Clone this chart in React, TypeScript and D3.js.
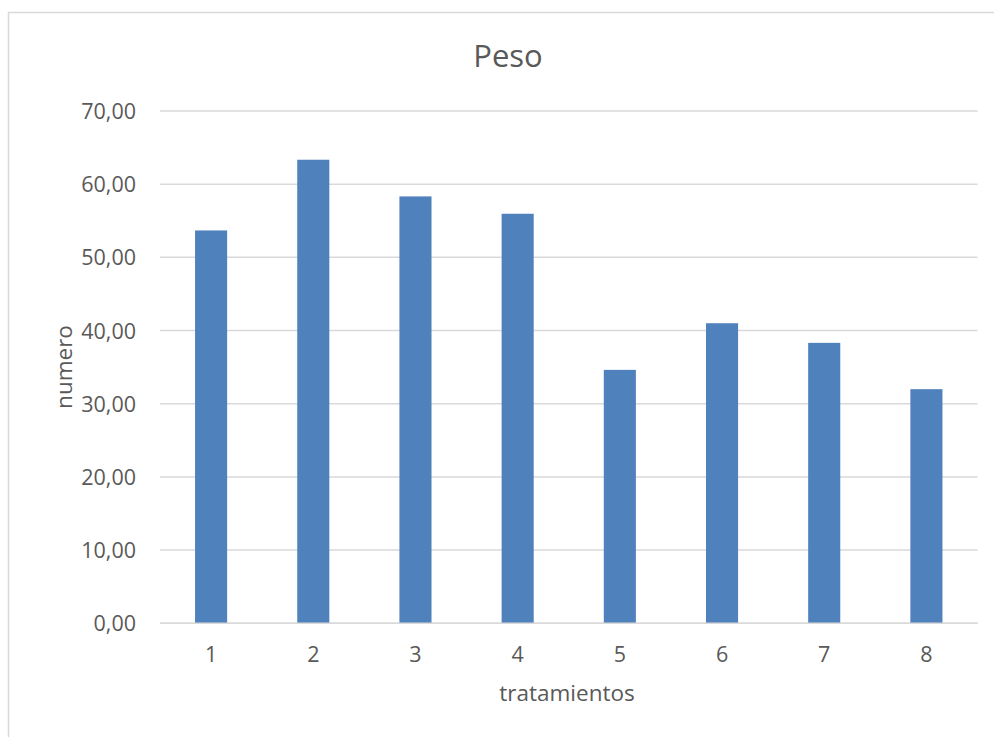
import React from "react";
import * as d3 from "d3";

// Weight per treatment
const tratamientos = ["1", "2", "3", "4", "5", "6", "7", "8"];
const peso = [53.68, 63.34, 58.33, 55.96, 34.63, 41.0, 38.32, 31.99];
const yTicks = [0, 10, 20, 30, 40, 50, 60, 70];

const W = 994;
const H = 737;
const plot = { left: 160, right: 977.5, top: 111, bottom: 623.3 };
const textColor = "#595959";
const gridColor = "#D9D9D9";
const barColor = "#4F81BD";
const font = "'Open Sans', 'Liberation Sans', sans-serif";

export default function App() {
  const x = d3
    .scaleBand<string>()
    .domain(tratamientos)
    .range([plot.left, plot.right])
    .paddingInner(0.686)
    .paddingOuter(0.343);
  const y = d3.scaleLinear().domain([0, 70]).range([plot.bottom, plot.top]);
  const fmt = (v: number) => d3.format(".2f")(v).replace(".", ",");

  return (
    <svg
      width={W}
      height={H}
      style={{ position: "absolute", left: 0, top: 0, background: "#fff" }}
      fontFamily={font}
    >
      <rect x={8.5} y={12.5} width={W} height={H} fill="#fff" stroke={gridColor} strokeWidth={1.5} />
      <text x={508} y={67} textAnchor="middle" fontSize={31} fill={textColor}>
        Peso
      </text>
      {yTicks.map((t) => (
        <g key={t}>
          <line x1={plot.left} x2={plot.right} y1={y(t)} y2={y(t)} stroke={gridColor} strokeWidth={1.5} />
          <text x={136} y={y(t) + 8} textAnchor="end" fontSize={21.5} fill={textColor}>
            {fmt(t)}
          </text>
        </g>
      ))}
      {peso.map((v, i) => (
        <rect
          key={tratamientos[i]}
          x={x(tratamientos[i])}
          y={y(v)}
          width={x.bandwidth()}
          height={y(0) - y(v)}
          fill={barColor}
        />
      ))}
      <line x1={plot.left} x2={plot.right} y1={y(0)} y2={y(0)} stroke={gridColor} strokeWidth={1.5} />
      {tratamientos.map((c) => (
        <text
          key={c}
          x={(x(c) ?? 0) + x.bandwidth() / 2}
          y={662}
          textAnchor="middle"
          fontSize={21.5}
          fill={textColor}
        >
          {c}
        </text>
      ))}
      <text x={567} y={701} textAnchor="middle" fontSize={22.5} fill={textColor}>
        tratamientos
      </text>
      <text
        transform={`translate(72, 367) rotate(-90)`}
        textAnchor="middle"
        fontSize={22.5}
        fill={textColor}
      >
        numero
      </text>
    </svg>
  );
}
